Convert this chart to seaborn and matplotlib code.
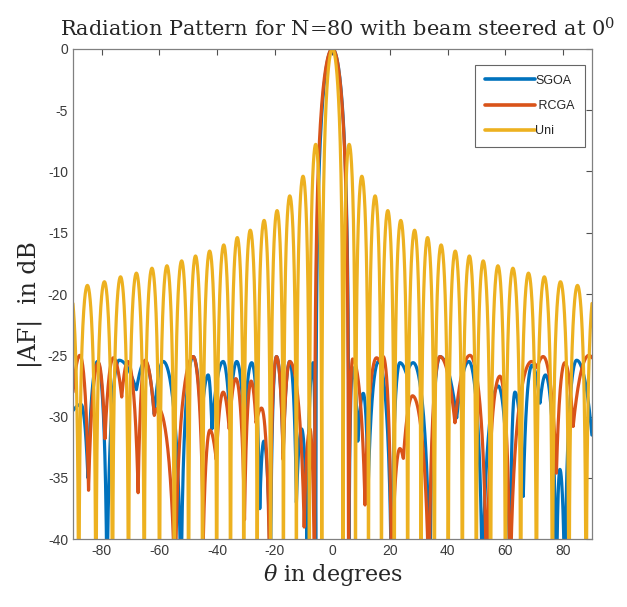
import numpy as np
import pandas as pd
import matplotlib
matplotlib.use("Agg")
import matplotlib.pyplot as plt
import seaborn as sns

# ---- data (local maxima / minima of each pattern) ----
# Uniform array: sidelobe peak angles (|theta|) and levels, symmetric about 0
uni_peak_theta = [5.8, 10.2, 14.8, 19.2, 23.7, 28.5, 33.0, 37.7, 42.6, 47.5,
                  52.3, 57.4, 62.6, 68.0, 73.5, 79.1, 85.0, 91.0]
uni_peak_db = [-7.8, -10.4, -12.0, -13.2, -14.0, -14.8, -15.4, -16.0, -16.5, -16.9,
               -17.3, -17.7, -17.9, -18.3, -18.6, -19.0, -19.3, -19.6]
uni_first_null = 3.7
uni_null_db = -60.0

# SGOA extrema (theta, dB)
sgoa_theta = [-90.0, -87.2, -84.8, -81.5, -78.2, -74.0, -68.0, -65.0, -61.8, -58.7,
              -52.5, -48.3, -45.5, -43.1, -41.8, -37.9, -35.6, -33.2, -30.6, -28.0,
              -25.2, -23.8, -21.5, -19.4, -17.1, -14.8, -12.5, -10.7, -8.8, -6.7,
              -5.8, 0.0, 5.7, 7.0, 8.8, 10.7, 12.4, 16.0, 20.5, 23.4,
              25.7, 28.0, 33.8, 37.3, 43.1, 47.3, 52.0, 57.5, 61.6, 63.3,
              66.2, 69.2, 72.0, 73.9, 77.7, 78.9, 80.6, 84.7, 90.0]
sgoa_db = [-29.5, -29.0, -35.0, -25.5, -45.0, -25.4, -27.8, -25.5, -29.8, -25.5,
           -45.0, -25.1, -30.5, -26.6, -31.0, -25.5, -30.0, -25.5, -31.0, -25.6,
           -37.5, -32.0, -45.0, -25.1, -33.0, -25.5, -37.0, -31.0, -40.0, -25.6,
           -45.0, 0.0, -45.0, -26.0, -32.0, -28.1, -35.7, -25.5, -45.0, -25.6,
           -26.5, -25.6, -45.0, -25.1, -30.1, -25.5, -45.0, -27.5, -45.0, -28.0,
           -36.5, -25.8, -28.9, -26.6, -45.0, -34.3, -45.0, -25.4, -31.5]

# RCGA extrema (theta, dB)
rcga_theta = [-90.0, -87.6, -84.6, -81.2, -78.9, -76.0, -73.1, -71.0, -67.4, -65.0,
              -61.8, -60.5, -54.6, -48.3, -44.8, -42.5, -40.3, -37.9, -35.8, -33.5,
              -30.5, -28.2, -26.5, -24.6, -21.7, -19.4, -17.1, -14.8, -9.8, -7.8,
              -6.2, 0.0, 5.6, 7.0, 11.3, 15.3, 16.4, 17.6, 20.5, 23.4,
              24.6, 27.8, 33.5, 37.3, 42.5, 47.7, 53.5, 58.1, 61.6, 69.1,
              71.0, 73.1, 77.7, 80.6, 83.5, 89.0, 90.0]
rcga_db = [-28.0, -25.0, -36.0, -25.6, -31.8, -25.2, -28.4, -25.5, -36.2, -25.4,
           -29.9, -29.3, -45.0, -25.1, -40.0, -31.1, -33.5, -28.0, -31.0, -26.9,
           -38.4, -27.1, -30.5, -29.3, -45.0, -25.1, -33.5, -25.5, -39.0, -31.0,
           -45.0, 0.0, -45.0, -25.3, -37.2, -25.2, -25.5, -25.1, -45.0, -32.6,
           -33.4, -28.3, -45.0, -25.1, -30.5, -25.0, -45.0, -26.7, -45.0, -25.5,
           -26.0, -25.1, -34.6, -25.6, -30.8, -25.0, -25.2]

series_names = ["SGOA", " RCGA", "Uni"]
x_ticks = [-80, -60, -40, -20, 0, 20, 40, 60, 80]
y_ticks = [0, -5, -10, -15, -20, -25, -30, -35, -40]


def lobes(theta_ext, db_ext, n=40):
    """Draw rounded lobes between successive extrema (linear amplitude)."""
    th_out, db_out = [], []
    amp = 10 ** (np.asarray(db_ext) / 20.0)
    for i in range(len(theta_ext) - 1):
        t = np.linspace(0, 1, n, endpoint=False)
        a0, a1 = amp[i], amp[i + 1]
        if a0 < a1:
            a = a0 + (a1 - a0) * np.sin(np.pi * t / 2)
        else:
            a = a1 + (a0 - a1) * np.cos(np.pi * t / 2)
        th_out.extend(theta_ext[i] + (theta_ext[i + 1] - theta_ext[i]) * t)
        db_out.extend(20 * np.log10(a))
    th_out.append(theta_ext[-1])
    db_out.append(db_ext[-1])
    return np.array(th_out), np.array(db_out)


# uniform extrema list built from the symmetric peak table
pk = np.array(uni_peak_theta)
nulls = [uni_first_null] + list((pk[:-1] + pk[1:]) / 2)
right_th, right_db = [0.0], [0.0]
for nl, p, d in zip(nulls, pk, uni_peak_db):
    right_th += [nl, p]
    right_db += [uni_null_db, d]
uni_theta = [-v for v in right_th[::-1]] + right_th[1:]
uni_db = right_db[::-1] + right_db[1:]

frames = []
for name, th, db in [("SGOA", sgoa_theta, sgoa_db),
                     (" RCGA", rcga_theta, rcga_db),
                     ("Uni", uni_theta, uni_db)]:
    x, y = lobes(th, db)
    frames.append(pd.DataFrame({"theta": x, "dB": y, "series": name}))
df = pd.concat(frames, ignore_index=True)

sns.set_style("white")
plt.rcParams["font.family"] = ["Liberation Sans", "DejaVu Sans"]
plt.rcParams["mathtext.fontset"] = "dejavuserif"
plt.rcParams["axes.unicode_minus"] = False

fig = plt.figure(figsize=(6.27, 6.07), dpi=100)
ax = fig.add_axes([0.1164, 0.1115, 0.8276, 0.8083])

palette = {"SGOA": "#0072BD", " RCGA": "#D95319", "Uni": "#EDB120"}
sns.lineplot(data=df, x="theta", y="dB", hue="series", hue_order=series_names,
             palette=palette, estimator=None, sort=False, linewidth=2.3, ax=ax)

ax.set_xlim(-90, 90)
ax.set_ylim(-40, 0)
ax.set_xticks(x_ticks)
ax.set_yticks(y_ticks)
ax.tick_params(direction="in", length=4, width=0.8, colors="#505050",
               labelsize=10, top=True, right=True, labeltop=False, labelright=False)
for lab in ax.get_xticklabels() + ax.get_yticklabels():
    lab.set_color("#3a3a3a")
for s in ax.spines.values():
    s.set_color("#808080")
    s.set_linewidth(0.9)

ax.set_xlabel(r"$\theta$ in degrees", fontsize=16, family="DejaVu Serif", labelpad=3)
ax.set_ylabel("|AF|  in dB", fontsize=17, family="DejaVu Serif")
ax.yaxis.set_label_coords(-0.06, 0.478)
ax.set_title(r"Radiation Pattern for N=80 with beam steered at 0$^0$",
             fontsize=15, family="DejaVu Serif", pad=9, x=0.51)

leg = ax.legend(loc="upper right", bbox_to_anchor=(0.9865, 0.967), fontsize=9,
                handlelength=4.0, handletextpad=0.05, borderpad=0.8,
                labelspacing=1.05, frameon=True, fancybox=False, title=None,
                borderaxespad=0)
leg.get_frame().set_edgecolor("#404040")
leg.get_frame().set_linewidth(0.8)
for line in leg.get_lines():
    line.set_linewidth(2.6)

fig.savefig("out.png", dpi=100)
